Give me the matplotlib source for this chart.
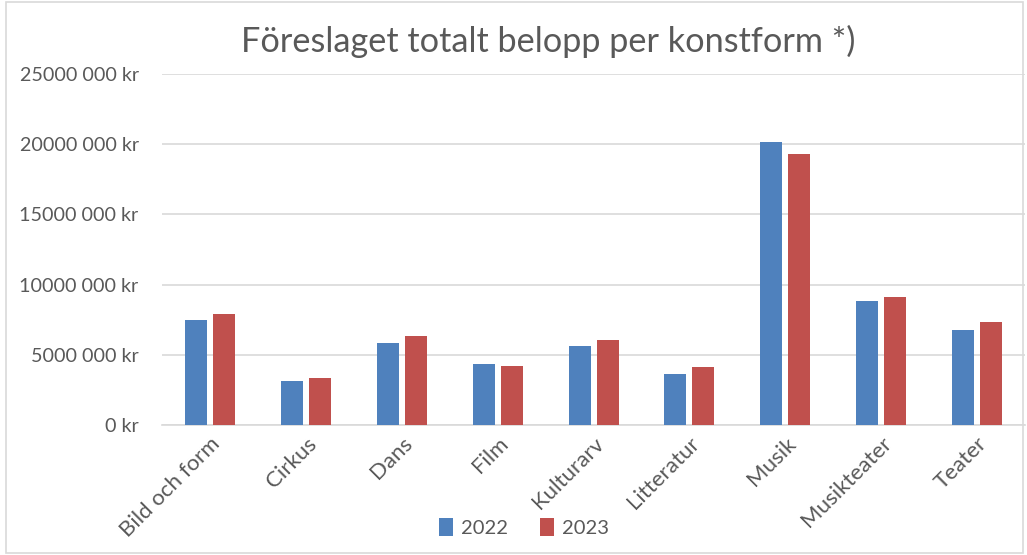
import numpy as np
import matplotlib
matplotlib.use("Agg")
import matplotlib.pyplot as plt
from matplotlib.ticker import FuncFormatter, MultipleLocator
from matplotlib.patches import Rectangle

plt.rcParams['font.family'] = ['Lato', 'DejaVu Sans']

categories = ['Bild och form', 'Cirkus', 'Dans', 'Film', 'Kulturarv',
              'Litteratur', 'Musik', 'Musikteater', 'Teater']
belopp_2022 = [7500000, 3160000, 5860000, 4370000, 5650000,
               3650000, 20180000, 8850000, 6790000]
belopp_2023 = [7930000, 3370000, 6360000, 4220000, 6080000,
               4150000, 19320000, 9140000, 7360000]
years = ['2022', '2023']

blue = '#4F81BD'
red = '#C0504D'
grey_txt = '#595959'
grid_col = '#D9D9D9'

fig = plt.figure(figsize=(10.27, 5.55), dpi=100)
ax = fig.add_axes([0.158, 0.234, 0.84, 0.633])

x = np.arange(len(categories))
w = 0.23
off = 0.146
ax.bar(x - off, belopp_2022, w, color=blue, label=years[0], zorder=3)
ax.bar(x + off, belopp_2023, w, color=red, label=years[1], zorder=3)

ax.set_xlim(-0.5, len(categories) - 0.5)
ax.set_ylim(0, 25000000)
ax.yaxis.set_major_locator(MultipleLocator(5000000))


def kr(v, pos):
    v = int(round(v))
    if v == 0:
        return '0 kr'
    return f'{v // 1000} {v % 1000:03d} kr'


ax.yaxis.set_major_formatter(FuncFormatter(kr))
ax.grid(axis='y', color=grid_col, linewidth=1.2, zorder=0)
for s in ['top', 'right', 'left']:
    ax.spines[s].set_visible(False)
ax.spines['bottom'].set_color(grid_col)
ax.spines['bottom'].set_linewidth(1.2)
ax.tick_params(axis='both', length=0, colors=grey_txt)
ax.tick_params(axis='y', pad=17, labelsize=14.2)
ax.tick_params(axis='x', pad=6, labelsize=16)
ax.set_xticks(x)
ax.set_xticklabels(categories, rotation=45, ha='right', rotation_mode='anchor')

fig.text(0.534, 0.925, 'Föreslaget totalt belopp per konstform *)',
         ha='center', va='center', fontsize=24.7, color=grey_txt)

fig.legend(loc='center', bbox_to_anchor=(0.51, 0.05), ncol=2, frameon=False,
           handlelength=0.7, handleheight=1.0, handletextpad=0.4,
           columnspacing=1.6, fontsize=14.5, labelcolor=grey_txt)

fig.patches.append(Rectangle((0.006, 0.003), 0.99, 0.994, transform=fig.transFigure,
                             fill=False, edgecolor=grid_col, linewidth=1.2))

fig.savefig('out.png', dpi=100)
